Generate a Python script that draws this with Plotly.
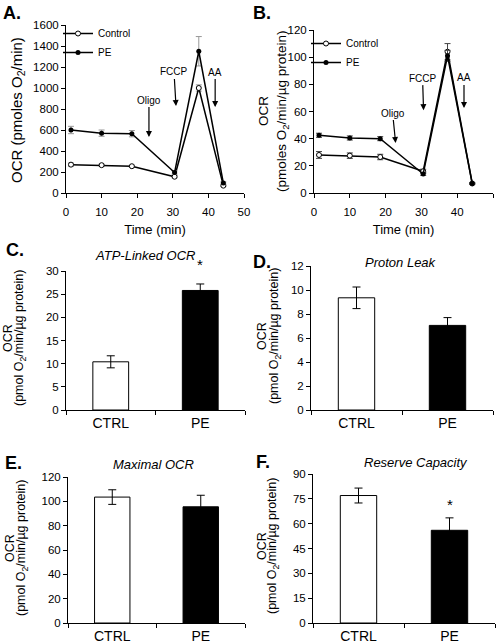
import plotly.graph_objects as go

W, H = 499, 643

# panels A/B: OCR time course
time_min = [1.4, 10.0, 18.5, 30.5, 37.3, 44.2]
ocr_ctrl = [270, 265, 255, 155, 1000, 70]
ocr_ctrl_err = [15, 10, 10, 10, 30, 8]
ocr_pe = [600, 570, 565, 195, 1350, 95]
ocr_pe_err = [35, 30, 30, 15, 140, 10]

ocr_prot_ctrl = [28, 27.5, 26.5, 16, 104, 7]
ocr_prot_ctrl_err = [2.5, 2, 2, 1.5, 6, 0.5]
ocr_prot_pe = [42.5, 40.5, 40, 14, 101, 7]
ocr_prot_pe_err = [1.5, 1.5, 1.5, 1, 4, 0.5]

# panels C-F: derived parameters
groups = ['CTRL', 'PE']
atp_linked = [10.4, 25.8]
atp_linked_err = [1.3, 1.4]
proton_leak = [9.35, 7.05]
proton_leak_err = [0.9, 0.65]
maximal_ocr = [103.5, 95.5]
maximal_ocr_err = [6, 9.5]
reserve_cap = [77, 56]
reserve_cap_err = [4.5, 7.5]


def px(x):
    return x / W


def py(y):
    return 1 - y / H


FONT = "Liberation Sans, Arial, sans-serif"

fig = go.Figure()

# --- A
fig.add_trace(go.Scatter(
    x=time_min, y=ocr_ctrl, name='Control', mode='lines+markers',
    line=dict(color='black', width=1.5),
    marker=dict(symbol='circle', size=5, color='white', line=dict(color='black', width=1)),
    error_y=dict(type='data', array=ocr_ctrl_err, color='#999', thickness=1, width=3),
    xaxis='x', yaxis='y', legend='legend'))
fig.add_trace(go.Scatter(
    x=time_min, y=ocr_pe, name='PE', mode='lines+markers',
    line=dict(color='black', width=1.5),
    marker=dict(symbol='circle', size=5, color='black'),
    error_y=dict(type='data', array=ocr_pe_err, color='#999', thickness=1, width=3),
    xaxis='x', yaxis='y', legend='legend'))

# --- B
fig.add_trace(go.Scatter(
    x=time_min, y=ocr_prot_ctrl, name='Control', mode='lines+markers',
    line=dict(color='black', width=1.5),
    marker=dict(symbol='circle', size=5, color='white', line=dict(color='black', width=1)),
    error_y=dict(type='data', array=ocr_prot_ctrl_err, color='#444', thickness=1, width=3),
    xaxis='x2', yaxis='y2', legend='legend2'))
fig.add_trace(go.Scatter(
    x=time_min, y=ocr_prot_pe, name='PE', mode='lines+markers',
    line=dict(color='black', width=1.5),
    marker=dict(symbol='circle', size=5, color='black'),
    error_y=dict(type='data', array=ocr_prot_pe_err, color='#444', thickness=1, width=3),
    xaxis='x2', yaxis='y2', legend='legend2'))

# --- C-F bars
bar_sets = [
    (atp_linked, atp_linked_err, 3),
    (proton_leak, proton_leak_err, 4),
    (maximal_ocr, maximal_ocr_err, 5),
    (reserve_cap, reserve_cap_err, 6),
]
for vals, errs, n in bar_sets:
    fig.add_trace(go.Bar(
        x=groups, y=vals, width=0.4,
        marker=dict(color=['white', 'black'], line=dict(color='black', width=1)),
        error_y=dict(type='data', array=errs, color='black', thickness=1, width=4),
        xaxis='x%d' % n, yaxis='y%d' % n, showlegend=False))

axis_style = dict(showline=True, linecolor='black', linewidth=1, ticks='outside',
                  ticklen=4, tickcolor='black', showgrid=False, zeroline=False,
                  automargin=False, tickfont=dict(size=11.5, color='black'))

# pixel boxes of each plot area: (left, right, top, bottom)
boxes = {
    1: (66, 244, 25, 193),
    2: (314, 493, 30, 193),
    3: (66, 245, 271, 410),
    4: (311, 493, 266, 410),
    5: (68, 245, 477, 623),
    6: (313, 495, 474, 623),
}
yranges = {1: (0, 1600, 200), 2: (0, 120, 20), 3: (0, 30, 5),
           4: (0, 12, 2), 5: (0, 120, 20), 6: (0, 90, 15)}

layout_axes = {}
for n, (l, r, t, b) in boxes.items():
    xs = 'xaxis' if n == 1 else 'xaxis%d' % n
    ys = 'yaxis' if n == 1 else 'yaxis%d' % n
    lo, hi, step = yranges[n]
    xa = dict(axis_style, domain=[px(l), px(r)], anchor='y' if n == 1 else 'y%d' % n)
    if n <= 2:
        xa.update(range=[0, 50], dtick=10, ticklabelstandoff=4,
                  title=dict(text='Time (min)', font=dict(size=13, color='black'), standoff=8))
    else:
        xa.update(type='category', tickson='boundaries', range=[-0.5, 1.5],
                  tickfont=dict(size=14, color='black'))
    ya = dict(axis_style, domain=[py(b), py(t)], anchor='x' if n == 1 else 'x%d' % n,
              range=[lo, hi], dtick=step)
    layout_axes[xs] = xa
    layout_axes[ys] = ya

annotations = []


def note(text, x, y, size, angle=0):
    return dict(text=text, x=px(x), y=py(y), xref='paper', yref='paper',
                xanchor='center', yanchor='middle', textangle=angle, showarrow=False,
                font=dict(size=size, color='black'))


# panel letters
for label, x, y in [('A.', 12, 13), ('B.', 262, 13), ('C.', 15, 250),
                    ('D.', 262, 262), ('E.', 13, 463), ('F.', 263, 462)]:
    annotations.append(note('<b>%s</b>' % label, x, y, 18))

# bar panel titles
for label, x, y in [('ATP-Linked OCR', 145, 255), ('Proton Leak', 401, 262),
                    ('Maximal OCR', 153, 465), ('Reserve Capacity', 416, 462)]:
    annotations.append(note('<i>%s</i>' % label, x, y, 13))

# y axis titles
annotations.append(note('OCR (pmoles O<sub>2</sub>/min)', 17, 110, 15, -90))
ytitles = [
    ('(pmoles O<sub>2</sub>/min/µg protein)', 263, 282, 111, 13.5),
    ('(pmol O<sub>2</sub>/min/µg protein)', 8, 20, 338, 12.5),
    ('(pmol O<sub>2</sub>/min/µg protein)', 262, 275, 336, 12.5),
    ('(pmol O<sub>2</sub>/min/µg protein)', 10, 22, 548, 12.5),
    ('(pmol O<sub>2</sub>/min/µg protein)', 262, 273, 546, 12.5),
]
for line2, x1, x2, yc, fs in ytitles:
    annotations.append(note('OCR', x1, yc, fs, -90))
    annotations.append(note(line2, x2, yc, fs, -90))

# injection arrows
arrows = [
    ('Oligo', 23.3, 533, 0, -37, 'x', 'y'),
    ('FCCP', 30.9, 829, -2, -34, 'x', 'y'),
    ('AA', 41.9, 819, 0, -35, 'x', 'y'),
    ('Oligo', 22.8, 36.8, -3, -30, 'x2', 'y2'),
    ('FCCP', 30.6, 61, -1, -32, 'x2', 'y2'),
    ('AA', 41.9, 62.6, 0, -30, 'x2', 'y2'),
]
for label, x, y, ax, ay, xr, yr in arrows:
    annotations.append(dict(text=label, x=x, y=y, xref=xr, yref=yr, ax=ax, ay=ay,
                            showarrow=True, arrowhead=2, arrowsize=1, arrowwidth=1.2,
                            arrowcolor='black', font=dict(size=10, color='black')))

# significance stars
for vals, errs, xr, yr, shift in [(atp_linked, atp_linked_err, 'x3', 'y3', 9),
                                  (reserve_cap, reserve_cap_err, 'x6', 'y6', 3)]:
    annotations.append(dict(text='*', x='PE', y=vals[1] + errs[1], xref=xr, yref=yr,
                            yanchor='bottom', yshift=shift, showarrow=False,
                            font=dict(size=15, color='black')))

fig.update_layout(
    width=W, height=H,
    margin=dict(l=0, r=0, t=0, b=0),
    paper_bgcolor='white', plot_bgcolor='white',
    font=dict(family=FONT, size=12, color='black'),
    showlegend=True,
    legend=dict(x=px(58), y=py(19), xanchor='left', yanchor='top',
                bgcolor='rgba(0,0,0,0)', font=dict(size=10), itemwidth=30),
    legend2=dict(x=px(306), y=py(29), xanchor='left', yanchor='top',
                 bgcolor='rgba(0,0,0,0)', font=dict(size=10), itemwidth=30),
    annotations=annotations,
    **layout_axes,
)

# page has a default 8px body margin; drop it so the figure sits at the corner
fig.write_html("out.html", config={'displayModeBar': False},
               post_script="document.body.style.margin = '0';")
